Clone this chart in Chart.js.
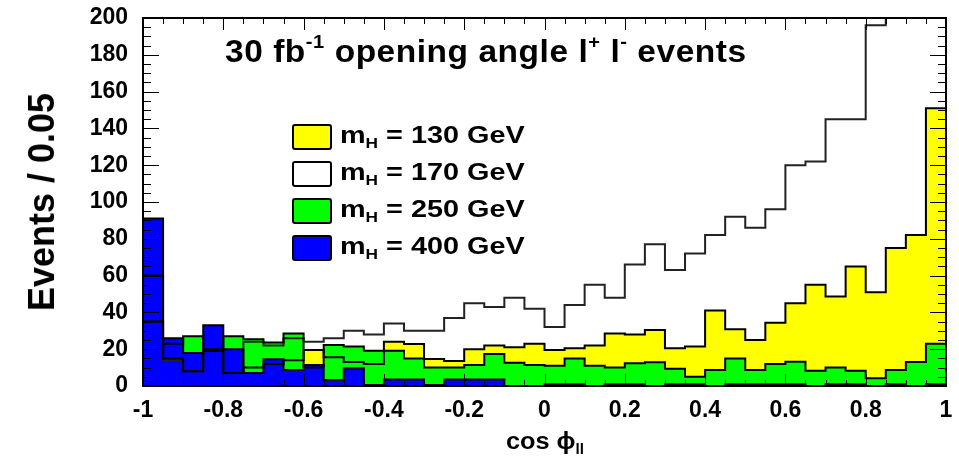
<!DOCTYPE html>
<html>
<head>
<meta charset="utf-8">
<script src="https://cdn.jsdelivr.net/npm/chart.js@4.4.1/dist/chart.umd.min.js"></script>
<style>
  body { margin: 0; background: #fff; }
  #wrap { position: relative; width: 959px; height: 465px; font-family: 'Liberation Sans', Arial, sans-serif; }
  #chart { position: absolute; left: 0; top: 0; }
  .lbl { position: absolute; font-weight: bold; color: #000; white-space: nowrap; line-height: 1; transform-origin: left center; }
  .lbl sup { font-size: 60%; vertical-align: 0.75em; line-height: 0; }
  .lbl sub { font-size: 60%; vertical-align: -0.35em; line-height: 0; }
  .box { position: absolute; width: 36px; height: 22px; border: 2px solid #000; border-radius: 3px; }
</style>
</head>
<body>
<div id="wrap">
  <canvas id="chart" width="959" height="465"></canvas>
  <div class="lbl" style="left:225px; top:36px; font-size:31px; transform: scaleX(1.08); letter-spacing:0.5px;">30 fb<sup>-1</sup> opening angle l<sup>+</sup> l<sup>-</sup> events</div>

  <div class="box" style="left:292px; top:124px; background:#ffff00;"></div>
  <div class="lbl" style="left:340px; top:123px; font-size:24px; transform: scaleX(1.2);">m<sub>H</sub> = 130 GeV</div>
  <div class="box" style="left:292px; top:161px; background:#ffffff;"></div>
  <div class="lbl" style="left:340px; top:160px; font-size:24px; transform: scaleX(1.2);">m<sub>H</sub> = 170 GeV</div>
  <div class="box" style="left:292px; top:198px; background:#00ff00;"></div>
  <div class="lbl" style="left:340px; top:197px; font-size:24px; transform: scaleX(1.2);">m<sub>H</sub> = 250 GeV</div>
  <div class="box" style="left:292px; top:235px; background:#0000ff;"></div>
  <div class="lbl" style="left:340px; top:234px; font-size:24px; transform: scaleX(1.2);">m<sub>H</sub> = 400 GeV</div>

  <div class="lbl" style="left:42px; top:202px; font-size:36px; transform-origin: center; transform: translate(-50%, -50%) rotate(-90deg);">Events / 0.05</div>
  <div class="lbl" style="left:506px; top:430px; font-size:23px; transform: scaleX(1.1);">cos &#981;<sub>ll</sub></div>
</div>

<script>
// bin lower edges: 40 bins of width 0.05 from -1 to 1
const binEdges = Array.from({ length: 40 }, (_, i) => -1 + i * 0.05);

// events per bin
const mh130 = [35, 15, 8, 19, 7, 10, 12, 14, 19.6, 15.6,
               13, 12, 24, 22.8, 14.7, 13.6, 20, 22, 21, 23,
               19.6, 20.5, 22, 28.6, 28, 30.4, 20.5, 21.4, 41, 30.8,
               25, 34.4, 45, 55, 48.6, 65, 51, 75, 82, 151];
const mh170 = [35, 14, 8, 19, 7, 24, 22, 26, 24, 26,
               30, 28, 34, 30, 30, 37, 45, 43, 48, 42,
               32, 44, 55, 48, 66, 77, 63, 72, 82, 92,
               86, 96, 120, 122, 145, 145, 196, 230, 260, 300];
const mh250 = [60, 23, 27, 20, 27, 25.4, 23.6, 28.6, 10, 22.3,
               21.4, 19.2, 19.2, 15, 10, 10, 11.4, 17.4, 12.7, 11.4,
               11, 15, 11, 10, 12.3, 12.9, 9.4, 5, 8.7, 15,
               8.7, 12, 13.2, 8.3, 10, 8.3, 4.2, 8.7, 13, 23];
const mh400 = [91, 26, 18, 33, 20, 7, 14.5, 8.7, 11.4, 3.3,
               9.6, 0.5, 3.6, 3.6, 0.5, 3.6, 3.6, 3.6, 0, 0,
               1, 1, 0, 1, 1, 0, 1, 1, 0, 1,
               1, 1, 1, 0, 1, 1, 0, 1, 0, 1];

const xTicks = [-1, -0.8, -0.6, -0.4, -0.2, 0, 0.2, 0.4, 0.6, 0.8, 1];
const yTicks = [0, 20, 40, 60, 80, 100, 120, 140, 160, 180, 200];

/**
 * Turns bin contents into points for a stepped histogram outline
 */
function histPoints(values) {
  const pts = [{ x: -1, y: 0 }];
  values.forEach((v, i) => pts.push({ x: binEdges[i], y: v }));
  pts.push({ x: 1, y: values[values.length - 1] });
  pts.push({ x: 1, y: 0 });
  return pts;
}

function fillSet(values, colour, order) {
  return {
    data: histPoints(values),
    stepped: true,
    borderWidth: 0,
    borderColor: 'rgba(0,0,0,0)',
    backgroundColor: colour,
    fill: 'origin',
    pointRadius: 0,
    order: order
  };
}

function lineSet(values, colour, order) {
  return {
    data: histPoints(values),
    stepped: true,
    borderWidth: 2,
    borderColor: colour,
    fill: false,
    pointRadius: 0,
    order: order
  };
}

// frame with ticks pointing inward on all four sides, ROOT style
const rootFrame = {
  id: 'rootFrame',
  afterDraw(chart) {
    const { ctx, chartArea: a, scales } = chart;
    const xs = scales.x, ys = scales.y;
    ctx.save();
    ctx.strokeStyle = '#000';
    ctx.lineWidth = 1;
    ctx.beginPath();
    for (let k = 0; k <= 40; k++) {
      const v = -1 + k * 0.05;
      const px = Math.round(xs.getPixelForValue(v)) + 0.5;
      const len = (k % 4 === 0) ? 12 : 6;
      ctx.moveTo(px, a.bottom); ctx.lineTo(px, a.bottom - len);
      ctx.moveTo(px, a.top); ctx.lineTo(px, a.top + len);
    }
    for (let k = 0; k <= 40; k++) {
      const v = k * 5;
      const py = Math.round(ys.getPixelForValue(v)) + 0.5;
      const len = (k % 4 === 0) ? 16 : 8;
      ctx.moveTo(a.left, py); ctx.lineTo(a.left + len, py);
      ctx.moveTo(a.right, py); ctx.lineTo(a.right - len, py);
    }
    ctx.stroke();
    ctx.lineWidth = 2;
    ctx.strokeRect(a.left, a.top, a.right - a.left, a.bottom - a.top);
    ctx.restore();
  }
};

function createHistChart() {
  const ctx = document.getElementById('chart').getContext('2d');
  return new Chart(ctx, {
    type: 'line',
    data: {
      datasets: [
        fillSet(mh130, '#ffff00', 10),
        fillSet(mh250, '#00ff00', 9),
        fillSet(mh400, '#0000ff', 8),
        lineSet(mh170, '#222222', 4),
        lineSet(mh130, '#000000', 3),
        lineSet(mh250, '#000000', 2),
        lineSet(mh400, '#000000', 1)
      ]
    },
    options: {
      responsive: false,
      animation: false,
      layout: { padding: { left: 0, right: 13, top: 18, bottom: 0 } },
      plugins: {
        legend: { display: false },
        tooltip: { enabled: false }
      },
      scales: {
        x: {
          type: 'linear',
          min: -1,
          max: 1,
          afterFit(scale) {
            scale.height = 79;
            scale.paddingLeft = 0;
            scale.paddingRight = 0;
          },
          afterBuildTicks(scale) { scale.ticks = xTicks.map(v => ({ value: v })); },
          grid: { display: false, drawTicks: false },
          border: { display: false },
          ticks: {
            padding: 11,
            color: '#000',
            font: { family: 'Liberation Sans', size: 23, weight: 'bold' },
            maxRotation: 0,
            callback: v => String(Math.round(v * 10) / 10)
          }
        },
        y: {
          min: 0,
          max: 200,
          afterFit(scale) {
            scale.width = 143;
            scale.paddingTop = 0;
            scale.paddingBottom = 0;
          },
          afterBuildTicks(scale) { scale.ticks = yTicks.map(v => ({ value: v })); },
          grid: { display: false, drawTicks: false },
          border: { display: false },
          ticks: {
            padding: 15,
            color: '#000',
            font: { family: 'Liberation Sans', size: 23, weight: 'bold' }
          }
        }
      }
    },
    plugins: [rootFrame]
  });
}

createHistChart();
</script>
</body>
</html>
